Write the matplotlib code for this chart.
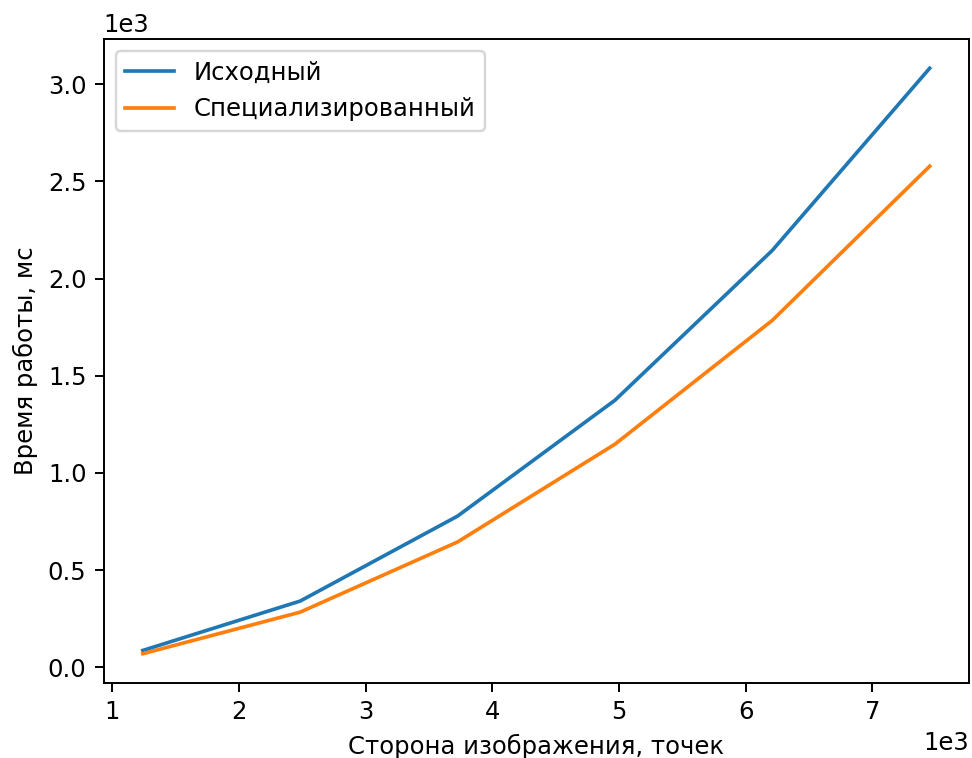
import matplotlib
matplotlib.use('Agg')
import matplotlib.pyplot as plt

# image side, points
sizes = [1242, 2484, 3726, 4968, 6210, 7452]
# run time, ms
time_orig = [87, 341, 778, 1374, 2145, 3082]
time_spec = [70, 284, 645, 1148, 1785, 2578]

DPI = 175
fig = plt.figure(figsize=(973 / DPI, 758 / DPI), dpi=DPI)
ax = fig.add_subplot(111)
fig.subplots_adjust(left=103.5 / 973, right=969 / 973, bottom=1 - 683 / 758, top=1 - 39 / 758)

ax.plot(sizes, time_orig, label='Исходный')
ax.plot(sizes, time_spec, label='Специализированный')

ax.ticklabel_format(style='sci', axis='both', scilimits=(0, 0))
ax.set_xlabel('Сторона изображения, точек')
ax.set_ylabel('Время работы, мс')
ax.legend(loc='upper left')

fig.savefig('out.png', dpi=DPI)
